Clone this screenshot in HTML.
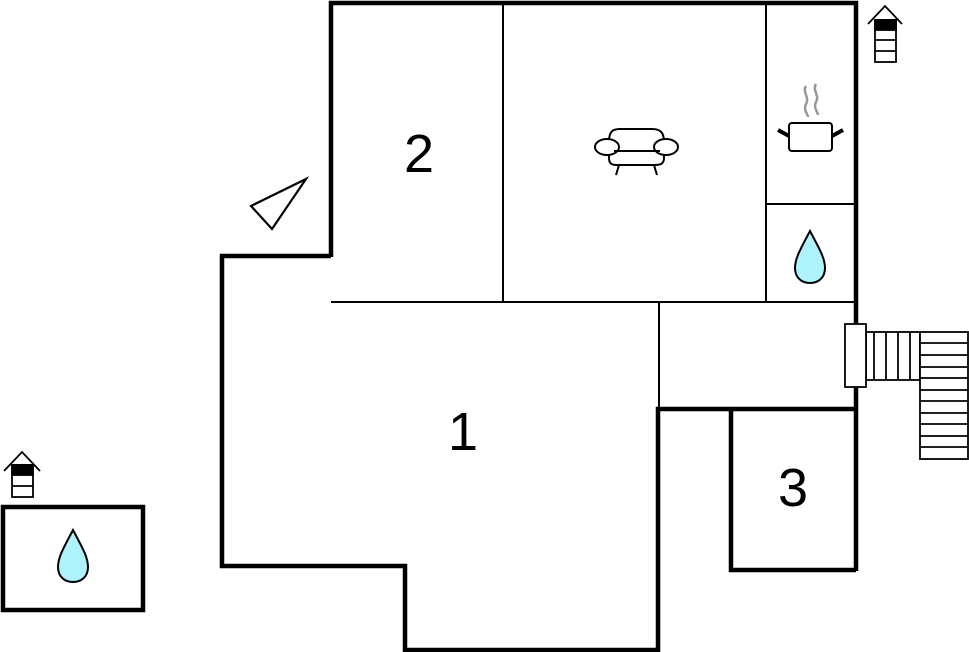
<!DOCTYPE html>
<html><head><meta charset="utf-8"><style>
html,body{margin:0;padding:0;background:#fff;width:969px;height:652px;overflow:hidden}
text{font-family:"Liberation Sans",sans-serif;font-size:54px;fill:#000}
</style></head><body>
<svg width="969" height="652" viewBox="0 0 969 652" xmlns="http://www.w3.org/2000/svg">
<g stroke="#000" fill="none">
<!-- thin interior lines -->
<g stroke-width="2">
<line x1="331" y1="302" x2="856" y2="302"/>
<line x1="503" y1="3" x2="503" y2="302"/>
<line x1="766" y1="3" x2="766" y2="302"/>
<line x1="766" y1="204" x2="856" y2="204"/>
<line x1="659" y1="302" x2="659" y2="409"/>
</g>
<!-- thick outer walls -->
<g stroke-width="4.5" stroke-linejoin="miter">
<polyline points="331,257 331,3 856,3 856,571"/>
<polyline points="331,256 222,256 222,566 405,566 405,650 658,650 658,409 856,409"/>
<polyline points="731,409 731,570 856,570"/>
<rect x="3" y="507" width="140" height="103"/>
</g>
<!-- triangle -->
<polygon points="251,206 306,179 272,229" stroke-width="2.2" fill="#fff"/>
<!-- stairs -->
<g stroke-width="1.8" fill="#fff">
<rect x="866" y="332" width="54" height="48"/>
<line x1="874" y1="332" x2="874" y2="380"/><line x1="886" y1="332" x2="886" y2="380"/>
<line x1="898" y1="332" x2="898" y2="380"/><line x1="910" y1="332" x2="910" y2="380"/>
<rect x="920" y="332" width="48" height="127"/>
<line x1="920" y1="343" x2="968" y2="343"/><line x1="920" y1="355" x2="968" y2="355"/>
<line x1="920" y1="367" x2="968" y2="367"/><line x1="920" y1="378" x2="968" y2="378"/>
<line x1="920" y1="390" x2="968" y2="390"/><line x1="920" y1="401" x2="968" y2="401"/>
<line x1="920" y1="413" x2="968" y2="413"/><line x1="920" y1="424" x2="968" y2="424"/>
<line x1="920" y1="436" x2="968" y2="436"/><line x1="920" y1="447" x2="968" y2="447"/>
<rect x="845" y="324" width="21" height="63"/>
</g>
<!-- up arrows -->
<g stroke-width="1.8">
<polyline points="868,24 885,6 902,24"/>
<rect x="875" y="20" width="21" height="42" fill="#fff"/>
<rect x="875" y="20" width="21" height="10" fill="#000"/>
<line x1="875" y1="40" x2="896" y2="40"/><line x1="875" y1="51" x2="896" y2="51"/>
<polyline points="4,471 22,452 40,471"/>
<rect x="12" y="465" width="21" height="32" fill="#fff"/>
<rect x="12" y="465" width="21" height="10" fill="#000"/>
<line x1="12" y1="486" x2="33" y2="486"/>
</g>
<!-- water drops -->
<g stroke-width="2" fill="#aef3fb">
<path d="M810,231 C801,248 795,258 795,268 C795,278 802,283 810,283 C818,283 825,278 825,268 C825,258 819,248 810,231 Z"/>
<path d="M73,530 C64,547 58,557 58,567 C58,577 65,582 73,582 C81,582 88,577 88,567 C88,557 82,547 73,530 Z"/>
</g>
<!-- pot -->
<g stroke-width="2">
<rect x="789" y="123" width="43" height="28" rx="3" fill="#fff"/>
<line x1="778" y1="130" x2="789" y2="136" stroke-width="4"/>
<line x1="843" y1="130" x2="832" y2="136" stroke-width="4"/>
<path d="M806,86 C802,92 810,98 806,104 C803,110 808,114 808,117" stroke="#999" stroke-width="2.5"/>
<path d="M816,84 C812,90 820,96 816,102 C813,108 818,112 818,115" stroke="#999" stroke-width="2.5"/>
</g>
<!-- sofa -->
<g stroke-width="2" fill="#fff">
<path d="M609,142 C609,132 612,129 620,129 L652,129 C660,129 664,132 664,142 L664,158 C664,164 660,165 655,165 L617,165 C612,165 609,164 609,158 Z"/>
<ellipse cx="607" cy="147" rx="12" ry="8"/>
<ellipse cx="666" cy="147" rx="12" ry="8"/>
<line x1="614" y1="151" x2="660" y2="151"/>
<line x1="619" y1="165" x2="616" y2="175"/>
<line x1="654" y1="165" x2="657" y2="175"/>
</g>
</g>
<text x="419" y="172" text-anchor="middle">2</text>
<text x="463" y="450" text-anchor="middle">1</text>
<text x="793" y="506" text-anchor="middle">3</text>
</svg>
</body></html>
